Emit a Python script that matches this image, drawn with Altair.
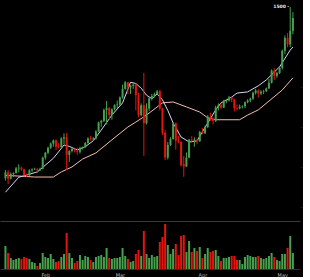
import altair as alt
import pandas as pd

# ---- data (daily candles, 17 Jan -> 5 May) ----
start = "2017-01-17"
opens = [880, 905, 878, 898, 902, 922, 925, 918, 895, 892, 914, 918, 920, 914, 920,
         968, 989, 1010, 1028, 1042, 1015, 1012, 1050, 1055, 980, 996, 1005, 998, 993, 1008,
         1012, 1030, 1050, 1046, 1050, 1080, 1118, 1125, 1172, 1180, 1150, 1175, 1192, 1195, 1225,
         1262, 1290, 1268, 1275, 1280, 1235, 1150, 1192, 1115, 1178, 1222, 1232, 1240, 1252, 1178,
         1075, 968, 1022, 1048, 1115, 1040, 1035, 940, 930, 968, 1045, 1042, 1045, 1038, 1078,
         1072, 1098, 1143, 1135, 1125, 1182, 1192, 1182, 1208, 1212, 1225, 1216, 1180, 1178, 1186,
         1188, 1205, 1212, 1220, 1245, 1255, 1242, 1250, 1252, 1264, 1288, 1340, 1318, 1330, 1352,
         1425, 1480, 1452, 1510]
closes = [905, 878, 898, 902, 922, 925, 918, 895, 892, 914, 918, 920, 914, 920, 968,
          989, 1010, 1028, 1042, 1015, 1012, 1050, 1055, 980, 996, 1005, 998, 993, 1008, 1012,
          1030, 1050, 1046, 1050, 1080, 1118, 1125, 1172, 1180, 1150, 1175, 1192, 1195, 1225, 1262,
          1290, 1268, 1275, 1280, 1235, 1150, 1192, 1115, 1178, 1222, 1232, 1240, 1252, 1178, 1075,
          968, 1022, 1048, 1115, 1040, 1035, 935, 930, 968, 1045, 1042, 1045, 1038, 1078, 1072,
          1098, 1143, 1135, 1125, 1182, 1192, 1182, 1208, 1212, 1225, 1216, 1180, 1178, 1186, 1188,
          1205, 1212, 1220, 1245, 1255, 1242, 1250, 1252, 1264, 1288, 1340, 1318, 1330, 1352, 1425,
          1480, 1452, 1510, 1565]
highs = [915, 915, 905, 905, 928, 940, 930, 920, 900, 918, 922, 925, 922, 925, 972,
         992, 1015, 1033, 1046, 1045, 1030, 1055, 1072, 1074, 1000, 1010, 1008, 1010, 1015, 1015,
         1035, 1055, 1060, 1056, 1085, 1122, 1130, 1178, 1210, 1185, 1178, 1196, 1212, 1230, 1280,
         1295, 1292, 1278, 1285, 1285, 1245, 1200, 1330, 1200, 1228, 1240, 1246, 1258, 1258, 1180,
         1085, 1035, 1055, 1120, 1118, 1060, 1038, 975, 990, 1048, 1060, 1055, 1050, 1082, 1095,
         1105, 1150, 1160, 1140, 1190, 1200, 1200, 1215, 1218, 1232, 1230, 1220, 1195, 1195, 1192,
         1208, 1218, 1225, 1250, 1262, 1260, 1256, 1258, 1268, 1305, 1345, 1350, 1335, 1360, 1430,
         1490, 1500, 1612, 1590]
lows = [870, 855, 875, 885, 900, 905, 912, 888, 885, 890, 905, 915, 908, 910, 918,
        960, 983, 1005, 1015, 1000, 1008, 1010, 1025, 915, 950, 990, 990, 980, 985, 1002,
        1010, 1028, 1040, 1040, 1045, 1078, 1100, 1120, 1110, 1130, 1130, 1170, 1180, 1190, 1220,
        1258, 1240, 1240, 1262, 1170, 1140, 1145, 976, 1110, 1168, 1212, 1225, 1237, 1170, 1065,
        958, 960, 1018, 1045, 1002, 1030, 930, 886, 928, 965, 1030, 1015, 1025, 1035, 1068,
        1070, 1095, 1125, 1110, 1120, 1170, 1175, 1180, 1200, 1208, 1205, 1165, 1170, 1175, 1178,
        1180, 1200, 1205, 1215, 1238, 1225, 1235, 1240, 1248, 1262, 1285, 1300, 1310, 1325, 1345,
        1410, 1440, 1440, 1495]
volumes = [23, 16, 11, 9, 10, 11, 10, 12, 11, 10, 7, 6, 3, 6, 16, 12, 11, 15, 10, 7,
           8, 12, 15, 36, 16, 11, 6, 8, 14, 9, 13, 12, 9, 7, 12, 13, 14, 12, 21, 11,
           10, 11, 11, 12, 21, 13, 10, 7, 8, 15, 19, 13, 38, 15, 11, 14, 12, 13, 27, 32,
           45, 24, 15, 20, 25, 14, 33, 34, 17, 28, 17, 21, 18, 22, 11, 15, 21, 17, 18, 19,
           13, 8, 11, 11, 12, 13, 13, 9, 9, 5, 12, 14, 13, 12, 12, 13, 11, 10, 11, 13,
           16, 12, 9, 8, 15, 15, 21, 33, 16]

# moving averages read at sample days (day offset from 17 Jan, value)
fast_ma_day = [0, 5, 12, 18, 22, 24, 27, 30, 33, 36, 40, 44, 47, 49, 51, 53, 55, 57, 59, 61,
               63, 66, 69, 72, 76, 79, 81, 85, 87, 91, 95, 98, 103, 107, 108]
fast_ma_val = [820, 884, 907, 965, 1022, 1016, 1001, 1015, 1040, 1086, 1150, 1202, 1290, 1285,
               1265, 1235, 1220, 1240, 1215, 1170, 1116, 1056, 1035, 1040, 1116, 1172, 1202,
               1227, 1244, 1249, 1275, 1300, 1356, 1428, 1441]
slow_ma_day = [0, 7, 11, 18, 21, 25, 29, 34, 40, 46, 49, 53, 59, 63, 68, 73, 76, 79, 88, 91,
               95, 104, 108]
slow_ma_val = [892, 888, 885, 885, 907, 928, 962, 988, 1044, 1099, 1120, 1150, 1202, 1206,
               1185, 1163, 1138, 1130, 1130, 1150, 1172, 1257, 1309]

high_label = "1500 -"
month_ticks = [(2, 1), (3, 1), (4, 1), (5, 1)]
price_ticks = [1356, 1270, 1185, 1100, 1014, 928, 843, 757]

GREEN = "#47a04f"
RED = "#e3150f"

dates = pd.date_range(start, periods=len(opens), freq="D")
df = pd.DataFrame({
    "date": dates.strftime("%Y-%m-%dT%H:%M:%S"),
    "open": opens, "high": highs, "low": lows, "close": closes, "volume": volumes,
})
df["dir"] = ["up" if c >= o else "down" for o, c in zip(opens, closes)]

base_day = pd.Timestamp(start)
fast_df = pd.DataFrame({
    "date": [(base_day + pd.Timedelta(days=d)).strftime("%Y-%m-%dT%H:%M:%S") for d in fast_ma_day],
    "v": fast_ma_val})
slow_df = pd.DataFrame({
    "date": [(base_day + pd.Timedelta(days=d)).strftime("%Y-%m-%dT%H:%M:%S") for d in slow_ma_day],
    "v": slow_ma_val})
top_i = highs.index(max(highs))
label_df = pd.DataFrame({"date": [df["date"][top_i]], "v": [max(highs)], "t": [high_label]})

xscale = alt.Scale(domain=[alt.DateTime(year=2017, month=1, date=16, hours=20),
                           alt.DateTime(year=2017, month=5, date=5, hours=19)])
yscale = alt.Scale(domain=[697, 1642], nice=False, zero=False)
color = alt.Color("dir:N", scale=alt.Scale(domain=["up", "down"], range=[GREEN, RED]), legend=None)

top_x_axis = alt.Axis(labels=False, ticks=False, grid=False, title=None,
                      domain=True, domainColor="#3a3a3a", domainWidth=1)
right_axis = alt.Axis(orient="right", labels=False, domain=False, grid=False, title=None,
                      ticks=True, tickColor="#1a1a1a", tickSize=2, values=price_ticks)

wicks = alt.Chart(df).mark_rule(strokeWidth=1, clip=True).encode(
    x=alt.X("date:T", scale=xscale, axis=top_x_axis),
    y=alt.Y("low:Q", scale=yscale, axis=right_axis),
    y2="high:Q",
    color=color,
)
bodies = alt.Chart(df).mark_bar(size=2, clip=True).encode(
    x="date:T", y="open:Q", y2="close:Q", color=color)
fast = alt.Chart(fast_df).mark_line(color="#d6d4f6", strokeWidth=1, clip=True).encode(
    x="date:T", y="v:Q")
slow = alt.Chart(slow_df).mark_line(color="#f2bdb3", strokeWidth=1, clip=True).encode(
    x="date:T", y="v:Q")
label = alt.Chart(label_df).mark_text(align="right", baseline="middle", dx=-1, dy=0,
                                      fontSize=4.5, fontWeight="bold", color="#e8e8e8",
                                      font="DejaVu Sans").encode(
    x="date:T", y="v:Q", text="t:N")

top = alt.layer(slow, fast, wicks, bodies, label).properties(width=300, height=221)

bottom = alt.Chart(df).mark_bar(size=2, clip=True).encode(
    x=alt.X("date:T", scale=xscale,
            axis=alt.Axis(format="%b", title=None, grid=False, ticks=False,
                          values=[alt.DateTime(year=2017, month=m, date=d) for m, d in month_ticks],
                          labelFontSize=5, labelColor="#b8b8b8", labelPadding=3,
                          domainColor="#2e2e2e", labelFont="DejaVu Sans")),
    y=alt.Y("volume:Q", scale=alt.Scale(domain=[0, 48], nice=False), axis=None),
    color=color,
).properties(width=300, height=48)

chart = alt.vconcat(top, bottom, spacing=0).properties(
    background="black", padding=0
).configure_view(stroke=None)

chart.save("out.html", embed_options={"renderer": "svg", "actions": False})
